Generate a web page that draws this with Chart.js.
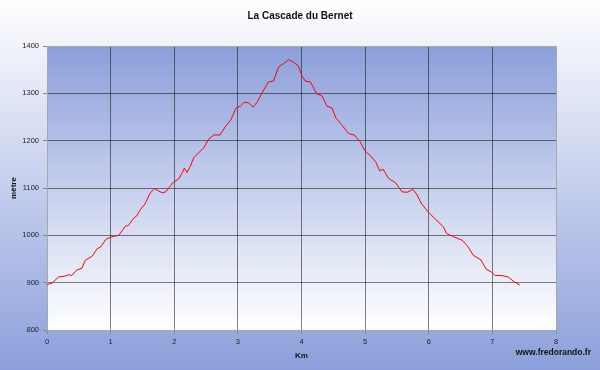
<!DOCTYPE html>
<html>
<head>
<meta charset="utf-8">
<title>La Cascade du Bernet</title>
<script src="https://cdn.jsdelivr.net/npm/chart.js@4/dist/chart.umd.min.js"></script>
<style>
  html, body { margin: 0; padding: 0; background: #fff; }
  #wrap { width: 600px; height: 370px; }
</style>
</head>
<body>
<div id="wrap"><canvas id="profil" width="600" height="370"></canvas></div>
<script>
// profil altimétrique - distance (km) / altitude (m)
const distKm = [
  0.00, 0.08, 0.18, 0.29, 0.34, 0.39, 0.46, 0.55, 0.60, 0.71,
  0.79, 0.84, 0.93, 1.02, 1.13, 1.23, 1.28, 1.36, 1.41, 1.47,
  1.54, 1.62, 1.69, 1.75, 1.81, 1.87, 1.93, 1.99, 2.07, 2.12,
  2.16, 2.20, 2.25, 2.31, 2.38, 2.46, 2.54, 2.62, 2.72, 2.80,
  2.89, 2.97, 3.04, 3.10, 3.17, 3.24, 3.30, 3.38, 3.48, 3.56,
  3.64, 3.72, 3.80, 3.87, 3.95, 4.01, 4.06, 4.14, 4.24, 4.32,
  4.40, 4.48, 4.54, 4.63, 4.74, 4.83, 4.92, 5.00, 5.10, 5.17,
  5.23, 5.28, 5.37, 5.48, 5.58, 5.66, 5.75, 5.81, 5.89, 6.00,
  6.13, 6.23, 6.28, 6.39, 6.52, 6.60, 6.70, 6.82, 6.90, 6.99,
  7.04, 7.15, 7.25, 7.33, 7.43
];
const altitudeM = [
  896, 899, 912, 914, 917, 915, 926, 931, 947, 956,
  972, 975, 992, 997, 1000, 1019, 1021, 1036, 1041, 1055,
  1066, 1089, 1099, 1094, 1090, 1092, 1103, 1113, 1119, 1131,
  1142, 1133, 1145, 1165, 1174, 1184, 1203, 1212, 1212, 1229,
  1244, 1269, 1273, 1281, 1280, 1271, 1281, 1301, 1324, 1326,
  1356, 1363, 1371, 1366, 1358, 1336, 1326, 1324, 1299, 1295,
  1273, 1269, 1248, 1234, 1215, 1212, 1198, 1178, 1166, 1154,
  1136, 1140, 1120, 1111, 1092, 1091, 1097, 1087, 1066, 1048,
  1031, 1018, 1004, 997, 990, 979, 958, 948, 929, 922,
  915, 915, 912, 903, 895
];
const xTicks = [0, 1, 2, 3, 4, 5, 6, 7, 8];
const yTicks = [800, 900, 1000, 1100, 1200, 1300, 1400];

const titre = 'La Cascade du Bernet';
const titreX = 'Km';
const titreY = 'mètre';
const siteWeb = 'www.fredorando.fr';

const BLEU = '#8c9fdb';
const FONT = '"Liberation Sans", Arial, sans-serif';

// fonds dégradés (extérieur : blanc -> bleu, zone du tracé : bleu -> blanc)
const fondPlugin = {
  id: 'fond',
  beforeDraw(chart) {
    const { ctx, chartArea: a, width, height } = chart;
    ctx.save();
    let g = ctx.createLinearGradient(0, 0, 0, height);
    g.addColorStop(0, '#ffffff');
    g.addColorStop(1, BLEU);
    ctx.fillStyle = g;
    ctx.fillRect(0, 0, width, height);
    g = ctx.createLinearGradient(0, a.top, 0, a.bottom);
    g.addColorStop(0, BLEU);
    g.addColorStop(1, '#ffffff');
    ctx.fillStyle = g;
    ctx.fillRect(a.left, a.top, a.right - a.left, a.bottom - a.top);
    ctx.restore();
  },
  afterDraw(chart) {
    const { ctx, width } = chart;
    ctx.save();
    ctx.fillStyle = '#111';
    ctx.textBaseline = 'middle';
    // titre centré sur toute la largeur
    ctx.font = 'bold 10px ' + FONT;
    ctx.textAlign = 'center';
    ctx.fillText(titre, width / 2, 16.5);
    // signature en bas à droite
    ctx.font = 'bold 8.5px ' + FONT;
    ctx.textAlign = 'right';
    ctx.fillText(siteWeb, 591, 353);
    ctx.restore();
  }
};

const points = distKm.map((x, i) => ({ x: x, y: altitudeM[i] }));

function couleurGrille(bords) {
  return c => (c.tick && bords.includes(c.tick.value)) ? '#a8a8a8' : 'rgba(0,0,0,0.5)';
}

new Chart(document.getElementById('profil'), {
  type: 'line',
  data: {
    datasets: [{
      data: points,
      borderColor: '#ff0000',
      borderWidth: 1,
      pointRadius: 0,
      tension: 0,
      fill: false
    }]
  },
  options: {
    responsive: false,
    animation: false,
    events: [],
    layout: { padding: { left: 0, right: 44, top: 46, bottom: 0 } },
    plugins: {
      legend: { display: false },
      tooltip: { enabled: false },
      title: { display: false }
    },
    scales: {
      x: {
        type: 'linear',
        min: 0,
        max: 8,
        afterBuildTicks: s => { s.ticks = xTicks.map(v => ({ value: v })); },
        afterFit: s => { s.height = 40; },
        ticks: {
          color: '#222',
          font: { family: FONT, size: 7.5 },
          padding: 3,
          maxRotation: 0,
          callback: v => String(v)
        },
        grid: {
          color: couleurGrille([0, 8]),
          tickColor: '#888',
          tickLength: 4,
          lineWidth: 1
        },
        border: { color: '#a8a8a8' },
        title: {
          display: true,
          text: titreX,
          color: '#111',
          font: { family: FONT, size: 8, weight: 'bold' },
          padding: { top: 0, bottom: 9 }
        }
      },
      y: {
        type: 'linear',
        min: 800,
        max: 1400,
        afterBuildTicks: s => { s.ticks = yTicks.map(v => ({ value: v })); },
        afterFit: s => { s.width = 47; },
        ticks: {
          color: '#222',
          font: { family: FONT, size: 7.5 },
          padding: 4,
          callback: v => String(v)
        },
        grid: {
          color: couleurGrille([800, 1400]),
          tickColor: '#888',
          tickLength: 4,
          lineWidth: 1
        },
        border: { color: '#a8a8a8' },
        title: {
          display: true,
          text: titreY,
          color: '#111',
          font: { family: FONT, size: 8, weight: 'bold' },
          padding: { top: 9, bottom: 0 }
        }
      }
    }
  },
  plugins: [fondPlugin]
});
</script>
</body>
</html>
